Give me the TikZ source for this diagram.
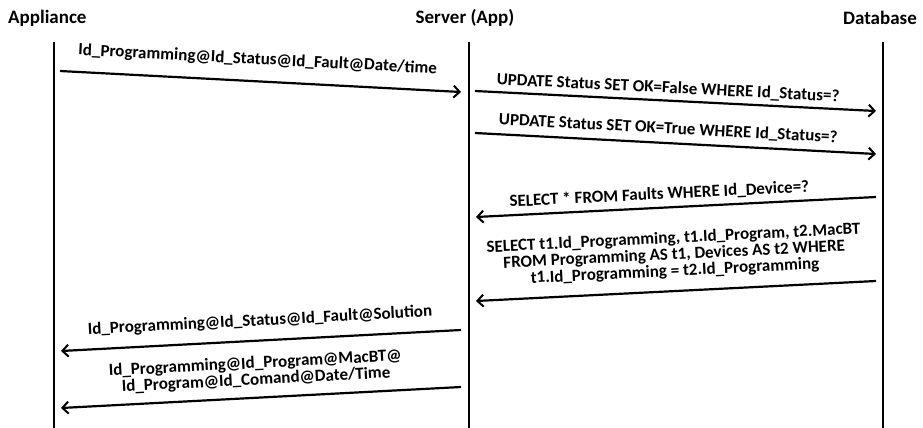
\documentclass[tikz,border=0pt]{standalone}
\usepackage{fontspec}
\setmainfont{Carlito}
\usetikzlibrary{arrows.meta}
\tikzset{
	head/.style={font=\bfseries\fontsize{19}{21}\selectfont, inner sep=0pt},
	life/.style={line width=2pt},
	msg/.style={line width=2.2pt, -{Straight Barb[length=6pt, width=12pt, line width=2pt]}},
	lbl/.style={font=\bfseries\fontsize{17}{16.5}\selectfont, sloped, inner sep=0pt, align=center}
}

\begin{document}
\begin{tikzpicture}[x=1pt, y=-1pt]
		%%%%% START %%%%%
		\useasboundingbox (0, 0) rectangle (923, 428);
		
		\node[head, anchor=west] (app) at (8, 18) {Appliance};
		\node[head] (srv) at (465, 18) {Server (App)};
		\node[head, anchor=east] (db) at (917, 18) {Database};
		
		\coordinate (apptop) at (54, 42);
		\coordinate (appbot) at (54, 428);
		\coordinate (srvtop) at (469, 42);
		\coordinate (srvbot) at (469, 428);
		\coordinate (dbtop) at (883, 42);
		\coordinate (dbbot) at (883, 428);
		
		\draw[life] (apptop) -- (appbot);
		\draw[life] (srvtop) -- (srvbot);
		\draw[life] (dbtop) -- (dbbot);
		
		% appliance -> server
		\coordinate (m1a) at (60, 71);
		\coordinate (m1b) at (461, 92);
		\draw[msg] (m1a) -- node[lbl, above=13pt, pos=0.49] {Id\_Programming@Id\_Status@Id\_Fault@Date/time} (m1b);
		
		% server -> database
		\coordinate (m2a) at (475, 91);
		\coordinate (m2b) at (876, 111);
		\draw[msg] (m2a) -- node[lbl, above=4pt, pos=0.48] {UPDATE Status SET OK=False WHERE Id\_Status=?} (m2b);
		\coordinate (m3a) at (475, 133);
		\coordinate (m3b) at (876, 154);
		\draw[msg] (m3a) -- node[lbl, above=6pt, pos=0.48] {UPDATE Status SET OK=True WHERE Id\_Status=?} (m3b);
		
		% database -> server
		\coordinate (m4a) at (876, 197);
		\coordinate (m4b) at (476, 217);
		\draw[msg] (m4a) -- node[lbl, above=5pt, pos=0.54] {SELECT * FROM Faults WHERE Id\_Device=?} (m4b);
		\coordinate (m5a) at (876, 281);
		\coordinate (m5b) at (476, 301);
		\draw[msg] (m5a) -- node[lbl, above=11pt] {SELECT t1.Id\_Programming, t1.Id\_Program, t2.MacBT\\FROM Programming AS t1, Devices AS t2 WHERE\\t1.Id\_Programming = t2.Id\_Programming} (m5b);
		
		% server -> appliance
		\coordinate (m6a) at (461, 330);
		\coordinate (m6b) at (61, 351);
		\draw[msg] (m6a) -- node[lbl, above=11pt] {Id\_Programming@Id\_Status@Id\_Fault@Solution} (m6b);
		\coordinate (m7a) at (461, 387);
		\coordinate (m7b) at (61, 408);
		\draw[msg] (m7a) -- node[lbl, above=9pt, pos=0.51] {Id\_Programming@Id\_Program@MacBT@\\Id\_Program@Id\_Comand@Date/Time} (m7b);
		
		%%%%% END %%%%%
\end{tikzpicture}
\end{document}
